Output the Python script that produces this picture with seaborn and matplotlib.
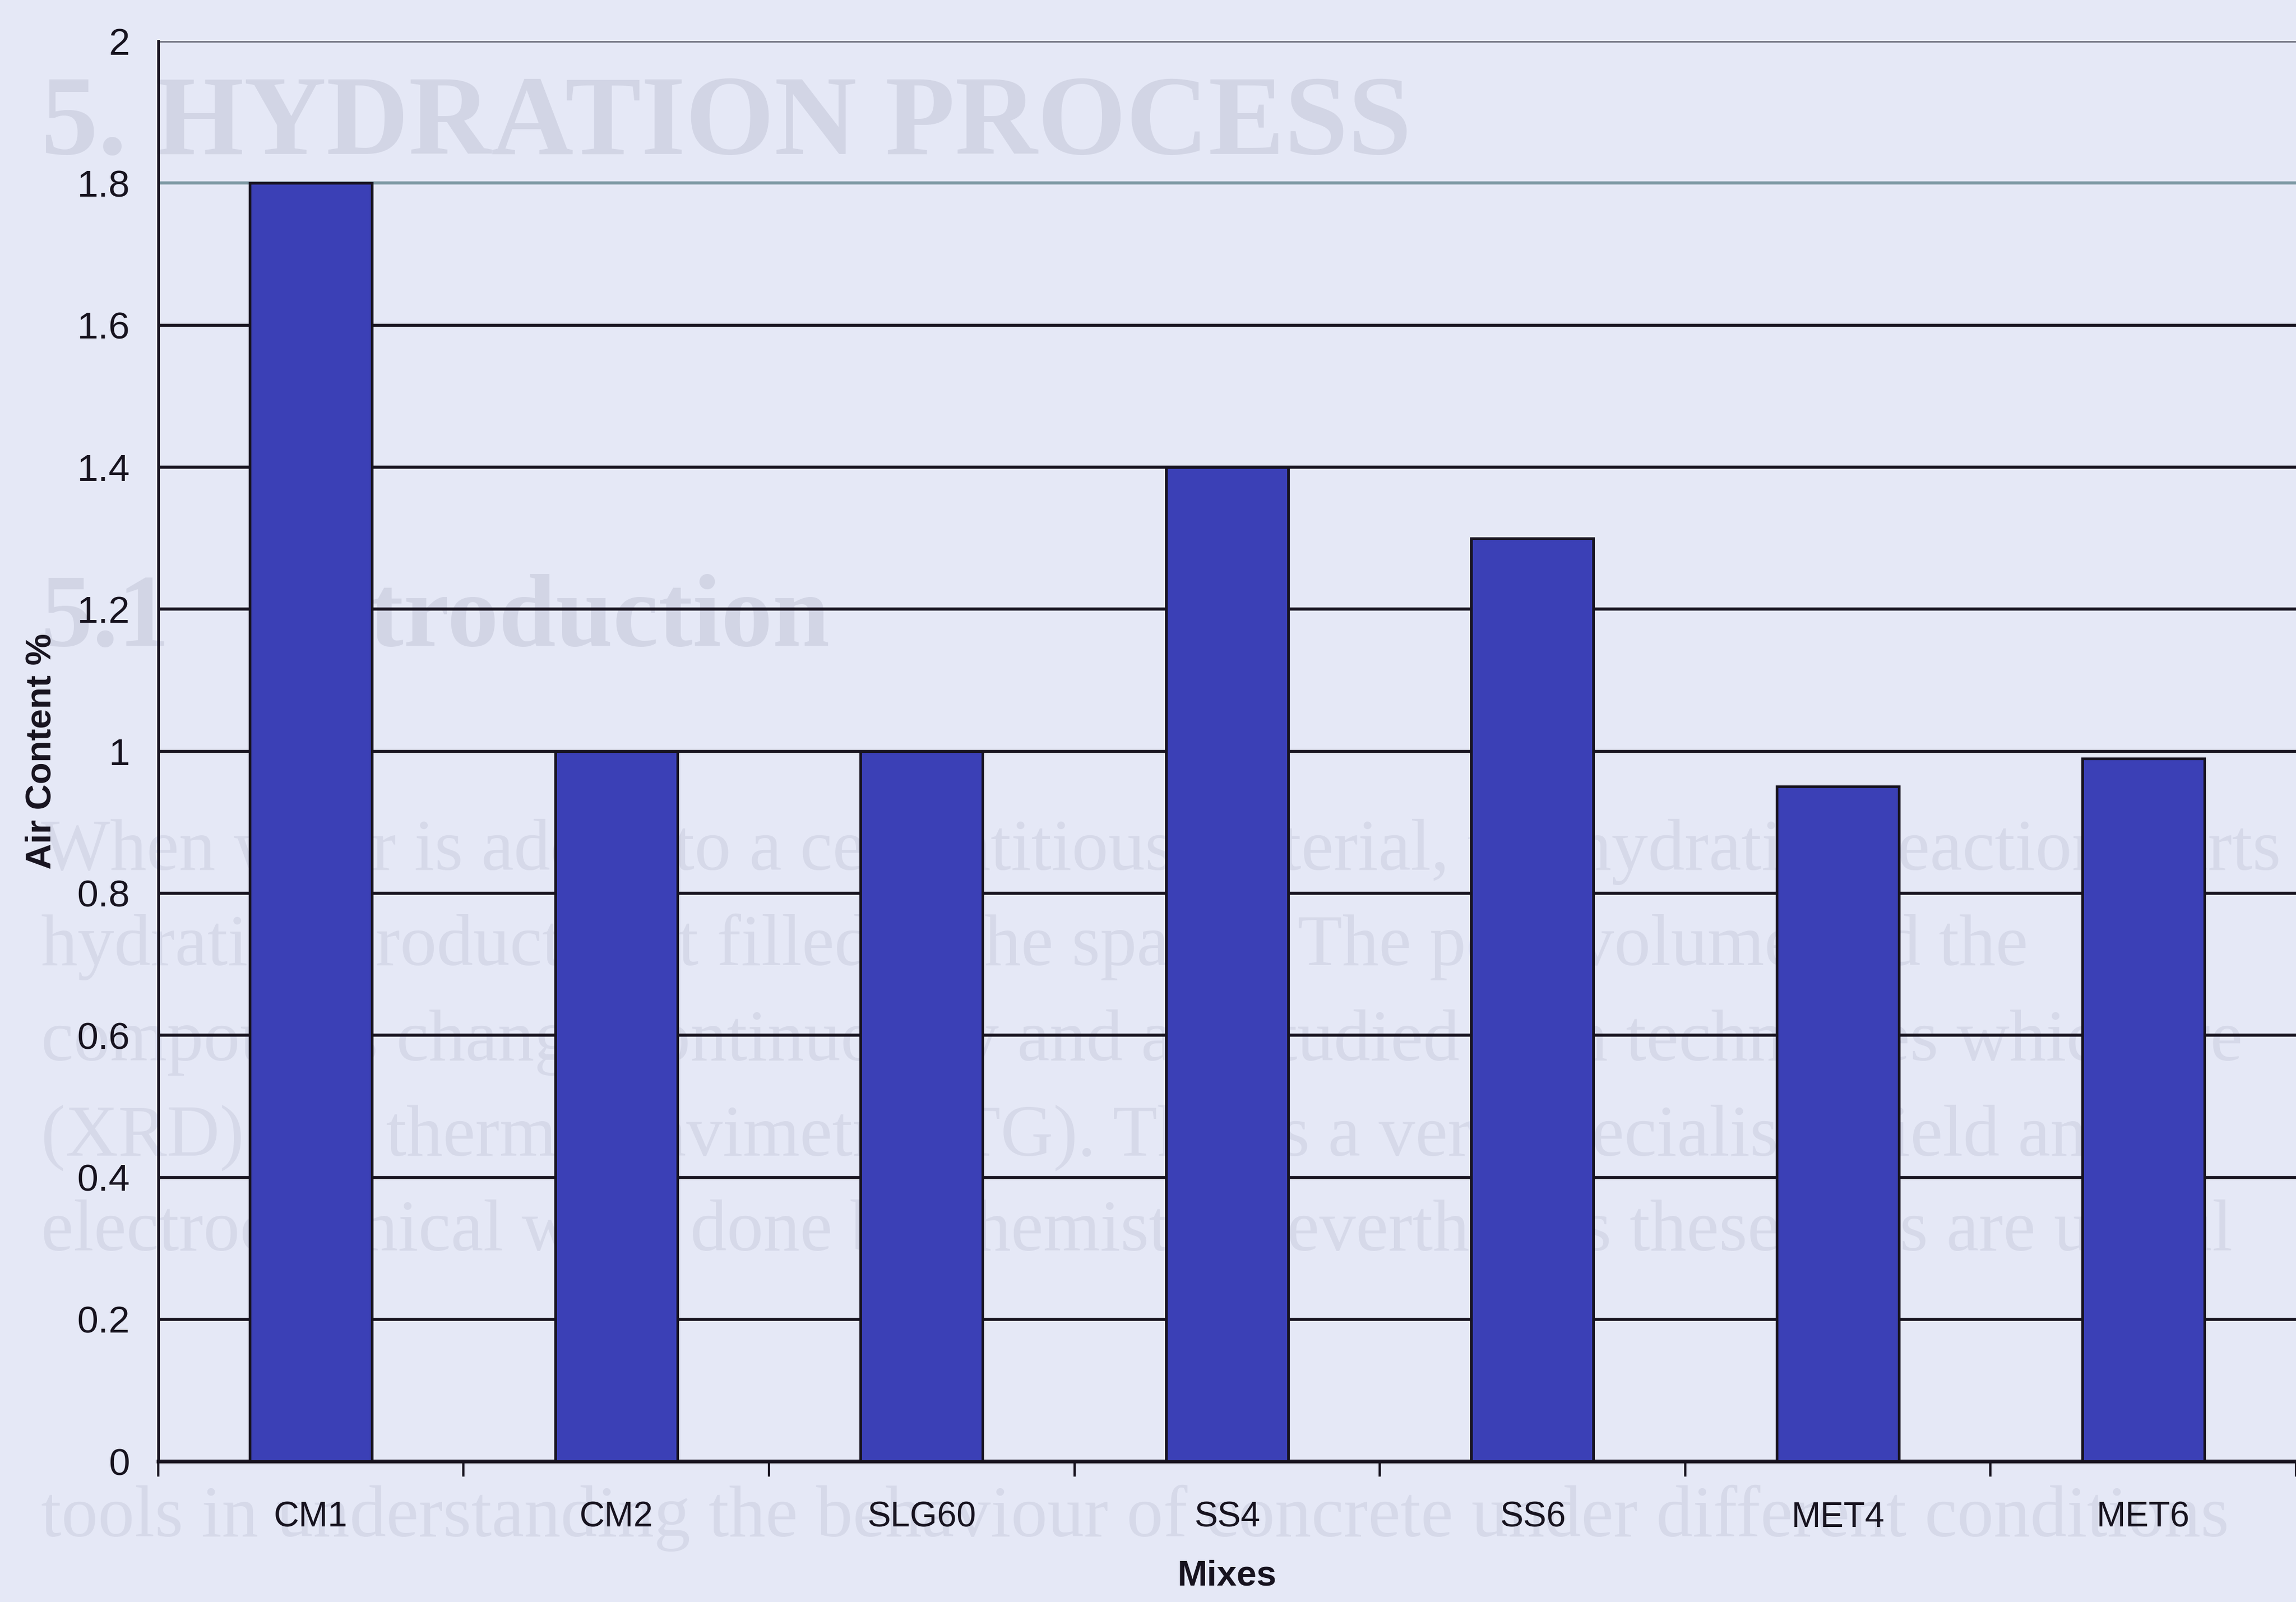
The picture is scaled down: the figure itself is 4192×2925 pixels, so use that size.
import numpy as np
import matplotlib
matplotlib.use("Agg")
import matplotlib.pyplot as plt
import seaborn as sns

# Air content of each concrete mix
mixes = ["CM1", "CM2", "SLG60", "SS4", "SS6", "MET4", "MET6"]
air_content = [1.8, 1.0, 1.0, 1.4, 1.3, 0.95, 0.99]
y_ticks = [0, 0.2, 0.4, 0.6, 0.8, 1, 1.2, 1.4, 1.6, 1.8, 2]
y_tick_labels = ["0", "0.2", "0.4", "0.6", "0.8", "1", "1.2", "1.4", "1.6", "1.8", "2"]

# Text from the facing page that shows through the paper
heading = "5. HYDRATION PROCESS"
section = "5.1    Introduction"
body_lines = [
    "When water is added to a cementitious material, the hydration reaction starts",
    "hydration products get filled in the spaces. The pore volume and the",
    "compounds change continuously and are studied with techniques which are",
    "(XRD) and thermogravimetry (TG). This is a very specialised field and is",
    "electrochemical work done by chemists. Nevertheless these tests are useful",
    "tools in understanding the behaviour of concrete under different conditions",
]
body_rows = [0, 1, 2, 3, 4, 7]

sns.set_theme(style="white")
plt.rcParams["font.family"] = ["Liberation Sans", "DejaVu Sans"]

paper = "#e5e8f6"
bar_blue = "#3b40b6"
ink = "#17131f"
ghost_head = "#d2d5e5"
ghost_body = "#d6d9e9"

fig = plt.figure(figsize=(41.92, 29.25), dpi=100, facecolor=paper)

# show-through text, behind the chart
fig.text(0.018, 0.904, heading, family="Liberation Serif", weight="bold",
         fontsize=150, color=ghost_head, zorder=-2)
fig.text(0.018, 0.597, section, family="Liberation Serif", weight="bold",
         fontsize=135, color=ghost_head, zorder=-2)
for row, line in zip(body_rows, body_lines):
    y_px = 594 + 65 * row
    fig.text(0.018, 1 - y_px / 1094, line, family="Liberation Serif",
             fontsize=96, color=ghost_body, zorder=-2)

ax = fig.add_axes([108 / 1568, 1 - 998 / 1094, 1 - 108 / 1568, (998 - 28) / 1094])
ax.set_facecolor("none")

sns.barplot(x=mixes, y=air_content, color=bar_blue, saturation=1, width=0.4,
            edgecolor=ink, linewidth=3.5, ax=ax, zorder=3)

ax.set_ylim(0, 2)
ax.set_xlim(-0.5, 6.45)
ax.set_yticks(y_ticks)
ax.set_yticklabels(y_tick_labels)

# horizontal gridlines; the two top ones print lighter
ax.set_axisbelow(True)
ax.yaxis.grid(True, color=ink, linewidth=4)
grid_lines = ax.yaxis.get_gridlines()
grid_lines[-1].set_color("#70727f")
grid_lines[-2].set_color("#7d98a3")
ax.xaxis.grid(False)

for side in ["top", "right"]:
    ax.spines[side].set_visible(False)
ax.spines["left"].set_color(ink)
ax.spines["left"].set_linewidth(3.5)
ax.spines["bottom"].set_color(ink)
ax.spines["bottom"].set_linewidth(5)

ax.tick_params(axis="y", which="major", direction="out", length=15, width=3,
               color=ink, pad=22, labelsize=50, labelcolor=ink)
ax.tick_params(axis="x", which="major", length=0, pad=52, labelsize=46,
               labelcolor=ink)
ax.set_xticks(np.arange(-0.5, 7, 1.0), minor=True)
ax.tick_params(axis="x", which="minor", direction="out", length=20, width=3,
               color=ink, bottom=True)

ax.set_xlabel("Mixes", fontsize=47, weight="bold", color=ink, labelpad=34)
ax.set_ylabel("Air Content %", fontsize=47, weight="bold", color=ink)
ax.yaxis.set_label_coords(-0.047, 0.5)

fig.savefig("out.png", dpi=100, facecolor=paper)
